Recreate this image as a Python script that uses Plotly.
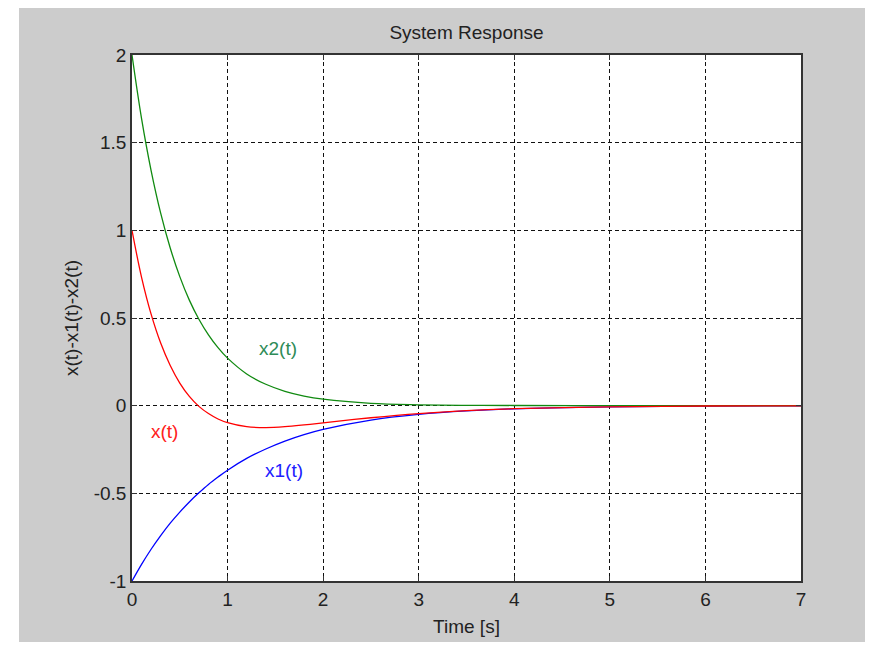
import plotly.graph_objects as go

# Values
t = [0.0, 0.1, 0.2, 0.3, 0.4, 0.5, 0.6, 0.7, 0.8, 0.9, 1.0, 1.2, 1.4, 1.6, 1.8,
     2.0, 2.5, 3.0, 3.5, 4.0, 5.0, 6.0, 7.0]
x2 = [2.000, 1.637, 1.341, 1.098, 0.899, 0.736, 0.602, 0.493, 0.404, 0.331, 0.271,
      0.181, 0.122, 0.082, 0.055, 0.037, 0.013, 0.005, 0.002, 0.001, 0.000, 0.000, 0.000]
x1 = [-1.000, -0.905, -0.819, -0.741, -0.670, -0.607, -0.549, -0.497, -0.449, -0.407,
      -0.368, -0.301, -0.247, -0.202, -0.165, -0.135, -0.082, -0.050, -0.030, -0.018,
      -0.007, -0.002, -0.001]
x = [1.000, 0.732, 0.522, 0.357, 0.229, 0.129, 0.053, -0.004, -0.045, -0.076, -0.097,
     -0.120, -0.125, -0.120, -0.110, -0.098, -0.069, -0.045, -0.028, -0.017, -0.007,
     -0.002, -0.001]

x_ticks = [0, 1, 2, 3, 4, 5, 6, 7]
y_ticks = [-1, -0.5, 0, 0.5, 1, 1.5, 2]
y_tick_labels = ["-1", "-0.5", "0", "0.5", "1", "1.5", "2"]

labels = ["x2(t)", "x(t)", "x1(t)"]
label_x = [1.53, 0.34, 1.59]
label_y = [0.325, -0.15, -0.367]
label_colors = ["#2e8b57", "#ff2020", "#2020ff"]

FONT = "Liberation Sans, Arial, sans-serif"

fig = go.Figure()
fig.add_trace(go.Scatter(x=t, y=x1, mode="lines", line=dict(color="#0000ff", width=1.3, shape="spline"), showlegend=False))
fig.add_trace(go.Scatter(x=t, y=x2, mode="lines", line=dict(color="#108a10", width=1.3, shape="spline"), showlegend=False))
fig.add_trace(go.Scatter(x=t, y=x, mode="lines", line=dict(color="#ff0000", width=1.3, shape="spline"), showlegend=False))

for txt, lx, ly, lc in zip(labels, label_x, label_y, label_colors):
    fig.add_annotation(x=lx, y=ly, text=txt, showarrow=False,
                       font=dict(family=FONT, size=19, color=lc))

axis_common = dict(
    showline=True, linecolor="#333333", linewidth=1.5, mirror="ticks",
    ticks="inside", ticklen=5, tickcolor="#333333", tickwidth=1,
    showgrid=True, gridcolor="#111111", gridwidth=1, griddash="4px,3px",
    zeroline=False,
    tickfont=dict(family=FONT, size=19, color="#222222"),
)

fig.update_xaxes(range=[0, 7], tickvals=x_ticks, ticktext=[str(v) for v in x_ticks],
                 title=dict(text="Time [s]", font=dict(family=FONT, size=19, color="#222222"), standoff=11),
                 **axis_common)
fig.update_yaxes(range=[-1, 2], tickvals=y_ticks, ticktext=y_tick_labels,
                 title=dict(text="x(t)-x1(t)-x2(t)", font=dict(family=FONT, size=19, color="#222222"), standoff=10),
                 **axis_common)

# white outer strips around the gray figure area
white_strips = [
    dict(x0=-0.3, x1=-0.1689, y0=-0.3, y1=1.3),
    dict(x0=-0.3, x1=1.3, y0=-0.3, y1=-0.116),
]
for s in white_strips:
    fig.add_shape(type="rect", xref="paper", yref="paper", line=dict(width=0),
                  fillcolor="white", layer="below", **s)

fig.update_layout(
    width=865, height=638,
    margin=dict(l=124, r=72, t=47, b=65),
    paper_bgcolor="#cccccc", plot_bgcolor="white",
    title=dict(text="System Response", x=0.5, xanchor="center", xref="paper",
               y=1 - 24 / 638, yanchor="middle", yref="container",
               font=dict(family=FONT, size=19, color="#222222")),
    showlegend=False,
)

fig.write_html("out.html")
